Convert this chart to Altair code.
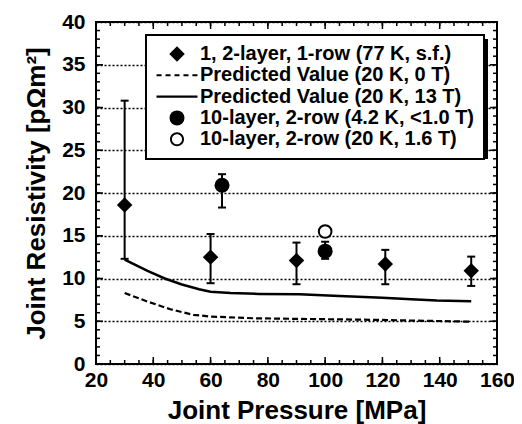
import altair as alt
import pandas as pd

# ---------------- data ----------------
S1 = "1, 2-layer, 1-row (77 K, s.f.)"
S2 = "Predicted Value (20 K, 0 T)"
S3 = "Predicted Value (20 K, 13 T)"
S4 = "10-layer, 2-row (4.2 K, <1.0 T)"
S5 = "10-layer, 2-row (20 K, 1.6 T)"
series_names = [S1, S2, S3, S4, S5]

# 1, 2-layer, 1-row (diamonds with error bars)
dia_x = [30, 60, 90, 121, 151]
dia_y = [18.6, 12.5, 12.1, 11.7, 10.9]
dia_lo = [12.3, 9.45, 9.33, 9.33, 9.13]
dia_hi = [30.8, 15.2, 14.2, 13.35, 12.56]

# 10-layer, 2-row, 4.2 K (filled circles with error bars)
cir_x = [64, 100]
cir_y = [20.9, 13.2]
cir_lo = [18.3, 12.3]
cir_hi = [22.2, 14.3]

# 10-layer, 2-row, 20 K (open circle)
opn_x = [100]
opn_y = [15.5]

# Predicted value, 13 T (solid)
p13_x = [30, 38, 44, 50, 56, 60, 67, 77, 91, 105, 120, 130, 139, 151]
p13_y = [12.2, 10.9, 10.0, 9.3, 8.75, 8.45, 8.3, 8.2, 8.15, 7.96, 7.76, 7.57, 7.42, 7.35]

# Predicted value, 0 T (dashed)
p0_x = [30, 38, 46, 54, 60, 75, 90, 105, 120, 135, 151]
p0_y = [8.3, 7.3, 6.4, 5.75, 5.55, 5.35, 5.28, 5.22, 5.15, 5.05, 4.95]

x_labels = [20, 40, 60, 80, 100, 120, 140, 160]
y_labels = [0, 5, 10, 15, 20, 25, 30, 35, 40]
x_minor = list(range(20, 161, 5))
y_minor = list(range(0, 41, 1))

# ---------------- layout / style ----------------
W, H = 401, 342
FONT = "Liberation Sans"

# legend symbol glyphs (drawn as filled paths)
SOLID = "M-4,-0.2L4,-0.2L4,0.2L-4,0.2Z"
DASHED = ("M-3.99,-0.2L-3.01,-0.2L-3.01,0.2L-3.99,0.2Z"
          "M-2.24,-0.2L-1.26,-0.2L-1.26,0.2L-2.24,0.2Z"
          "M-0.49,-0.2L0.49,-0.2L0.49,0.2L-0.49,0.2Z"
          "M1.26,-0.2L2.24,-0.2L2.24,0.2L1.26,0.2Z"
          "M3.01,-0.2L3.99,-0.2L3.99,0.2L3.01,0.2Z")
RING = ("M-1,0A1,1,0,1,0,1,0A1,1,0,1,0,-1,0Z"
        "M-0.72,0A0.72,0.72,0,1,1,0.72,0A0.72,0.72,0,1,1,-0.72,0Z")

pts = pd.DataFrame({
    "series": [S1] * len(dia_x) + [S4] * len(cir_x),
    "x": dia_x + cir_x,
    "y": dia_y + cir_y,
})
opn = pd.DataFrame({"x": opn_x, "y": opn_y})
err = pd.DataFrame({"x": dia_x + cir_x, "lo": dia_lo + cir_lo, "hi": dia_hi + cir_hi})
l13 = pd.DataFrame({"x": p13_x, "y": p13_y})
l0 = pd.DataFrame({"x": p0_x, "y": p0_y})

xs = alt.Scale(domain=[20, 160], nice=False, zero=False)
ys = alt.Scale(domain=[0, 40], nice=False, zero=False)

x_axis = alt.Axis(values=x_labels, title="Joint Pressure [MPa]", grid=False, labelFlush=False,
                  ticks=False, domain=False, labelPadding=5, titlePadding=7)
y_axis = alt.Axis(values=y_labels, title="Joint Resistivity [pΩm²]", grid=True, labelFlush=False,
                  gridDash=[2, 2], gridColor="black", gridWidth=1.3, gridOpacity=1,
                  ticks=False, domain=False, labelPadding=11, titlePadding=12)


def xe(f):
    return alt.X(f + ":Q", scale=xs, axis=x_axis)


def ye(f):
    return alt.Y(f + ":Q", scale=ys, axis=y_axis)


leg = alt.Legend(orient="none", legendX=50, legendY=13, title=None)

# legend box shadow (decoration)
shadow = alt.Chart(pd.DataFrame({"k": [0]})).mark_rect(color="black").encode(
    x=alt.value(54), x2=alt.value(392), y=alt.value(17), y2=alt.value(137))

line13 = alt.Chart(l13).mark_line(color="black", strokeWidth=2.5).encode(x=xe("x"), y=ye("y"))
line0 = alt.Chart(l0).mark_line(color="black", strokeWidth=2.2, strokeDash=[6, 3]).encode(x=xe("x"), y=ye("y"))

bars = alt.Chart(err).mark_rule(color="black", strokeWidth=2).encode(
    x=xe("x"), y=ye("lo"), y2=alt.Y2("hi"))
cap_lo = alt.Chart(err).mark_tick(color="black", orient="horizontal", size=8, thickness=2, opacity=1).encode(
    x=xe("x"), y=ye("lo"))
cap_hi = alt.Chart(err).mark_tick(color="black", orient="horizontal", size=8, thickness=2, opacity=1).encode(
    x=xe("x"), y=ye("hi"))

points = alt.Chart(pts).mark_point(filled=True, strokeWidth=0, opacity=1).encode(
    x=xe("x"), y=ye("y"),
    color=alt.Color("series:N", scale=alt.Scale(domain=series_names,
                    range=["black", "black", "black", "black", "black"]), legend=leg),
    shape=alt.Shape("series:N", scale=alt.Scale(domain=series_names,
                    range=["diamond", DASHED, SOLID, "circle", RING]), legend=leg),
    size=alt.Size("series:N", scale=alt.Scale(type="ordinal", domain=series_names,
                  range=[240, 105, 105, 225, 196]), legend=leg),
)

open_pt = alt.Chart(opn).mark_point(shape="circle", size=160, fill="white", stroke="black",
                                    strokeWidth=2, opacity=1).encode(x=xe("x"), y=ye("y"))

# inward ticks on all four sides
xmaj = pd.DataFrame({"t": x_labels})
xmin = pd.DataFrame({"t": x_minor})
ymaj = pd.DataFrame({"t": y_labels})
ymin = pd.DataFrame({"t": y_minor})
tk = dict(color="black", strokeWidth=1.5)
ticks = [
    alt.Chart(xmaj).mark_rule(**tk).encode(x=xe("t"), y=alt.value(H), y2=alt.value(H - 7)),
    alt.Chart(xmin).mark_rule(**tk).encode(x=xe("t"), y=alt.value(H), y2=alt.value(H - 4)),
    alt.Chart(xmaj).mark_rule(**tk).encode(x=xe("t"), y=alt.value(0), y2=alt.value(7)),
    alt.Chart(xmin).mark_rule(**tk).encode(x=xe("t"), y=alt.value(0), y2=alt.value(4)),
    alt.Chart(ymaj).mark_rule(**tk).encode(y=ye("t"), x=alt.value(0), x2=alt.value(7)),
    alt.Chart(ymin).mark_rule(**tk).encode(y=ye("t"), x=alt.value(0), x2=alt.value(4)),
    alt.Chart(ymaj).mark_rule(**tk).encode(y=ye("t"), x=alt.value(W), x2=alt.value(W - 7)),
    alt.Chart(ymin).mark_rule(**tk).encode(y=ye("t"), x=alt.value(W), x2=alt.value(W - 4)),
]

chart = alt.layer(shadow, line0, line13, bars, cap_lo, cap_hi, points, open_pt, *ticks).properties(
    width=W, height=H,
    autosize=alt.AutoSizeParams(type="none"),
    padding={"left": 88, "top": 14, "right": 17, "bottom": 60},
).configure_view(
    stroke="black", strokeWidth=2
).configure_axis(
    labelFont=FONT, labelFontSize=21, labelFontWeight="bold", labelColor="black",
    titleFont=FONT, titleFontSize=26, titleFontWeight="bold", titleColor="black",
).configure_legend(
    fillColor="white", strokeColor="black", strokeWidth=2, padding=9, cornerRadius=0,
    labelFont=FONT, labelFontSize=20, labelFontWeight="bold", labelColor="black",
    labelLimit=0, labelOffset=13, symbolOffset=12, rowPadding=1.3,
    symbolStrokeWidth=0, symbolOpacity=1,
)

chart.save("out.html", embed_options={"renderer": "svg", "actions": False})
